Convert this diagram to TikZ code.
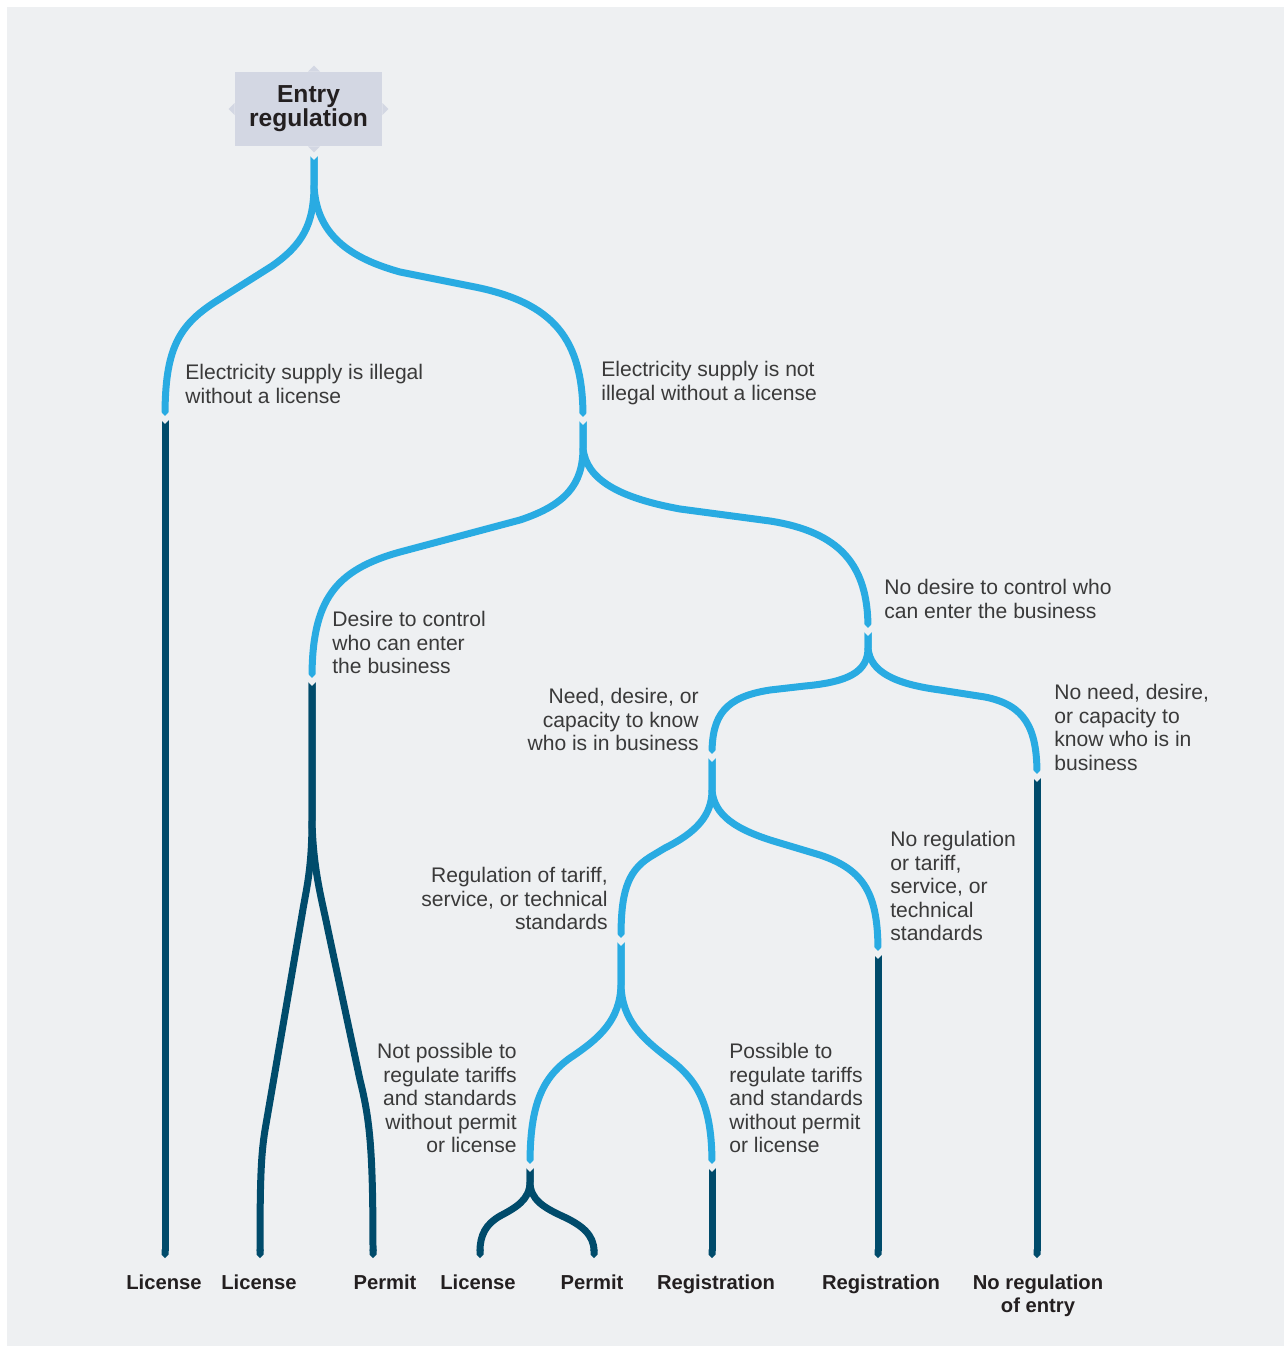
\documentclass[tikz,border=0pt]{standalone}
\usepackage{fontspec}
\setmainfont{Liberation Sans}
\usetikzlibrary{arrows.meta}
\definecolor{skyline}{RGB}{41,171,226}
\definecolor{deepline}{RGB}{0,75,107}
\definecolor{paneback}{RGB}{238,240,242}
\definecolor{boxfill}{RGB}{211,215,227}
\definecolor{textgray}{RGB}{58,58,58}
\definecolor{darktext}{RGB}{35,31,32}
\tikzset{
  topbox/.style={fill=boxfill,minimum width=2.94cm,minimum height=1.48cm,inner sep=0pt,
    align=center,text=darktext,font=\fontsize{14}{13.7}\selectfont\bfseries},
  branch/.style={draw=skyline,line width=0.14cm},
  stem/.style={draw=deepline,line width=0.14cm},
  stemend/.style={stem,-{Triangle Cap[]}},
  notch/.style={draw=paneback,line width=0.11cm},
  choice/.style={inner sep=0pt,text=textgray,font=\fontsize{12}{13.4}\selectfont},
  outcome/.style={inner sep=0pt,anchor=north,align=center,text=darktext,
    font=\fontsize{11.5}{13.1}\selectfont\bfseries},
}

\begin{document}
\begin{tikzpicture}[x=0.02cm,y=-0.02cm]
        \useasboundingbox (0,0) rectangle (1284,1346);
        \fill[white] (0,0) rectangle (1284,1346);
        \fill[paneback] (7,7) rectangle (1284,1346);

        \coordinate (root) at (314,152);
        \coordinate (j1) at (165,416);
        \coordinate (j2) at (583,417);
        \coordinate (j3) at (312,678);
        \coordinate (j4) at (868,628);
        \coordinate (j5) at (1037,774);
        \coordinate (j6) at (712,754);
        \coordinate (j7) at (878,951);
        \coordinate (j8) at (621,938);
        \coordinate (j9) at (530,1164);
        \coordinate (j10) at (712,1164);
        \coordinate (e1) at (165,1258);
        \coordinate (e2) at (260,1258);
        \coordinate (e3) at (373,1258);
        \coordinate (e4) at (480,1258);
        \coordinate (e5) at (594,1258);
        \coordinate (e6) at (712,1258);
        \coordinate (e7) at (878,1258);
        \coordinate (e8) at (1037,1258);

        \draw[stemend] (j1) -- (e1);
        \draw[stemend] (j3) -- (312,820) .. controls (312,870) and (306,890) .. (302,915)
          -- (265,1130) .. controls (261,1155) and (260,1180) .. (e2);
        \draw[stemend] (j3) -- (312,820) .. controls (313,870) and (322,900) .. (328,930)
          -- (360,1080) .. controls (370,1120) and (373,1150) .. (e3);
        \draw[stemend] (j9) -- (530,1182) .. controls (530,1200) and (515,1208) .. (500,1216)
          .. controls (486,1224) and (480,1235) .. (e4);
        \draw[stemend] (j9) -- (530,1182) .. controls (530,1200) and (545,1208) .. (562,1216)
          .. controls (582,1225) and (594,1235) .. (e5);
        \draw[stemend] (j10) -- (e6);
        \draw[stemend] (j7) -- (e7);
        \draw[stemend] (j5) -- (e8);

        \draw[branch] (root) -- (314,185) .. controls (314,225) and (302,245) .. (272,266)
          -- (215,302) .. controls (178,326) and (165,350) .. (j1);
        \draw[branch] (root) -- (314,185) .. controls (316,235) and (350,258) .. (400,272)
          -- (470,286) .. controls (555,302) and (583,340) .. (j2);
        \draw[branch] (j2) -- (583,448) .. controls (583,485) and (565,505) .. (520,520)
          -- (400,552) .. controls (335,570) and (312,600) .. (j3);
        \draw[branch] (j2) -- (583,448) .. controls (586,480) and (620,498) .. (680,509)
          -- (770,521) .. controls (840,532) and (868,565) .. (j4);
        \draw[branch] (j4) -- (868,648) .. controls (868,672) and (848,682) .. (805,686)
          -- (770,690) .. controls (725,697) and (712,715) .. (j6);
        \draw[branch] (j4) -- (868,648) .. controls (870,672) and (895,684) .. (940,690)
          -- (985,697) .. controls (1025,705) and (1037,728) .. (j5);
        \draw[branch] (j6) -- (712,790) .. controls (712,815) and (697,832) .. (665,848)
          -- (650,857) .. controls (626,872) and (621,895) .. (j8);
        \draw[branch] (j6) -- (712,790) .. controls (714,815) and (735,830) .. (780,843)
          -- (820,855) .. controls (865,870) and (878,895) .. (j7);
        \draw[branch] (j8) -- (621,985) .. controls (620,1020) and (600,1038) .. (570,1058)
          .. controls (542,1078) and (530,1105) .. (j9);
        \draw[branch] (j8) -- (621,985) .. controls (622,1020) and (642,1038) .. (668,1058)
          .. controls (698,1080) and (712,1105) .. (j10);

        \foreach \j in {root,j1,j2,j3,j4,j5,j6,j7,j8,j9,j10}
          \draw[notch] (\j) ++(-6,-2.1) -- ++(6,6) -- ++(6,-6);

        \node[topbox] (entry) at (308.5,109) {Entry\\regulation};
        \fill[boxfill] (entry.north -| root) ++(-6,0) -- ++(6,-6) -- ++(6,6) -- cycle;
        \fill[boxfill] (entry.south -| root) ++(-6,0) -- ++(6,6) -- ++(6,-6) -- cycle;
        \fill[boxfill] (entry.west) ++(0,-6) -- ++(-6,6) -- ++(6,6) -- cycle;
        \fill[boxfill] (entry.east) ++(0,-6) -- ++(6,6) -- ++(-6,6) -- cycle;

        \node[choice,anchor=north west,align=left] (illegal) at (185,364)
          {Electricity supply is illegal\\without a license};
        \node[choice,anchor=north west,align=left] (legal) at (601,361)
          {Electricity supply is not\\illegal without a license};
        \node[choice,anchor=north west,align=left] (control) at (332,611)
          {Desire to control\\who can enter\\the business};
        \node[choice,anchor=north west,align=left] (nocontrol) at (884,579)
          {No desire to control who\\can enter the business};
        \node[choice,anchor=north east,align=right] (know) at (699,688)
          {Need, desire, or\\capacity to know\\who is in business};
        \node[choice,anchor=north west,align=left] (noknow) at (1054,684)
          {No need, desire,\\or capacity to\\know who is in\\business};
        \node[choice,anchor=north east,align=right] (tariff) at (608,867)
          {Regulation of tariff,\\service, or technical\\standards};
        \node[choice,anchor=north west,align=left] (notariff) at (890,831)
          {No regulation\\or tariff,\\service, or\\technical\\standards};
        \node[choice,anchor=north east,align=right] (impossible) at (517,1043)
          {Not possible to\\regulate tariffs\\and standards\\without permit\\or license};
        \node[choice,anchor=north west,align=left] (possible) at (729,1043)
          {Possible to\\regulate tariffs\\and standards\\without permit\\or license};

        \node[outcome] (lic1) at (164,1274) {License};
        \node[outcome] (lic2) at (259,1274) {License};
        \node[outcome] (per1) at (385,1274) {Permit};
        \node[outcome] (lic3) at (478,1274) {License};
        \node[outcome] (per2) at (592,1274) {Permit};
        \node[outcome] (reg1) at (716,1274) {Registration};
        \node[outcome] (reg2) at (881,1274) {Registration};
        \node[outcome] (none) at (1038,1274) {No regulation\\of entry};
      \end{tikzpicture}
\end{document}
